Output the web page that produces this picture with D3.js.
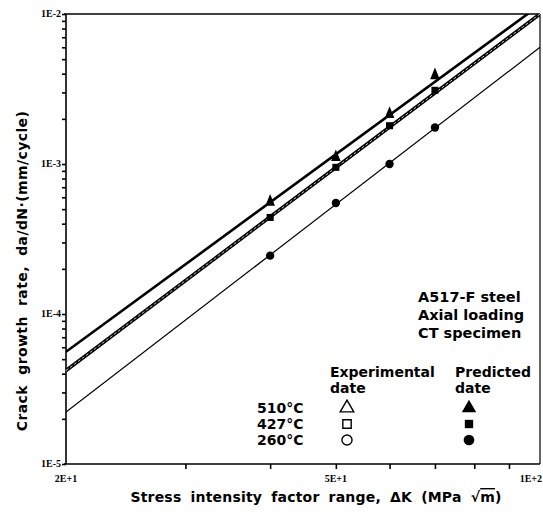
<!DOCTYPE html>
<html><head><meta charset="utf-8">
<script src="https://cdn.jsdelivr.net/npm/d3@7"></script>
<style>body{margin:0;background:#fff}svg{display:block}</style>
</head><body>
<script>
// ---- data ----
const deltaK = [40, 50, 60, 70];
const pred510 = [5.6e-4, 1.11e-3, 2.15e-3, 3.9e-3];
const pred427 = [4.4e-4, 9.5e-4, 1.8e-3, 3.1e-3];
const pred260 = [2.45e-4, 5.5e-4, 1.0e-3, 1.75e-3];
const fit510 = [[20, 5.6e-5], [100, 1.15e-2]];
const fit427 = [[20, 4.2e-5], [100, 1.0e-2]];
const fit260 = [[20, 2.22e-5], [100, 6.0e-3]];
const xTickValues = [30, 40, 50, 60, 70, 80, 90];
const xTickLabels = [[20, "2E+1"], [50, "5E+1"], [100, "1E+2"]];
const yTickLabels = [[1e-2, "1E-2"], [1e-3, "1E-3"], [1e-4, "1E-4"], [1e-5, "1E-5"]];
const tempLabels = ["510\u00B0C", "427\u00B0C", "260\u00B0C"];
const specLines = ["A517-F steel", "Axial loading", "CT specimen"];

const W = 543, H = 512;
const L = 66, R = 540, T = 14, B = 464;
const svg = d3.select("body").append("svg").attr("width", W).attr("height", H);
const x = d3.scaleLog().domain([20, 100]).range([L, R]);
const y = d3.scaleLog().domain([1e-5, 1e-2]).range([B, T]);

svg.append("defs").append("clipPath").attr("id", "clip")
  .append("rect").attr("x", L).attr("y", T).attr("width", R - L).attr("height", B - T);

// frame (top / right)
svg.append("line").attr("x1", L - 2).attr("x2", R).attr("y1", T).attr("y2", T).attr("stroke", "#000").attr("stroke-width", 1.6);
svg.append("line").attr("x1", R).attr("x2", R).attr("y1", T).attr("y2", B).attr("stroke", "#000").attr("stroke-width", 1.2);

// y axis
const yTicks = [];
for (let e = -5; e <= -2; e++) for (let m = 1; m <= 9; m++) { const v = m * Math.pow(10, e); if (v <= 1e-2 + 1e-12) yTicks.push(v); }
const yAxis = d3.axisLeft(y).tickValues(yTicks).tickSize(4).tickFormat("");
const gy = svg.append("g").attr("transform", `translate(${L},0)`).call(yAxis);
gy.selectAll("path,line").attr("stroke", "#000").attr("stroke-width", 1.6);
gy.select(".domain").attr("d", `M0,${T}V${B}`);

// x axis
const xAxis = d3.axisBottom(x).tickValues(xTickValues).tickSize(5).tickFormat("");
const gx = svg.append("g").attr("transform", `translate(0,${B})`).call(xAxis);
gx.selectAll("path,line").attr("stroke", "#000").attr("stroke-width", 1.6);
gx.select(".domain").attr("d", `M${L - 2},0H${R}`);

// tick labels
svg.selectAll(".yl").data(yTickLabels).enter().append("text")
  .attr("x", L - 5).attr("y", d => y(d[0]) + 3).attr("text-anchor", "end")
  .attr("font-family", "Liberation Serif").attr("font-weight", "bold").attr("font-size", 10)
  .text(d => d[1]);
svg.selectAll(".xl").data(xTickLabels).enter().append("text")
  .attr("x", d => d[0] === 100 ? W - 1 : x(d[0])).attr("y", B + 18)
  .attr("text-anchor", d => d[0] === 100 ? "end" : "middle")
  .attr("font-family", "Liberation Serif").attr("font-weight", "bold").attr("font-size", 10)
  .text(d => d[1]);

// fitted lines
const line = d3.line().x(d => x(d[0])).y(d => y(d[1]));
const gl = svg.append("g").attr("clip-path", "url(#clip)");
gl.append("path").attr("d", line(fit510)).attr("fill", "none").attr("stroke", "#000").attr("stroke-width", 2.6);
gl.append("path").attr("d", line(fit427)).attr("fill", "none").attr("stroke", "#000").attr("stroke-width", 3.6);
gl.append("path").attr("d", line(fit427)).attr("fill", "none").attr("stroke", "#fff").attr("stroke-width", 0.8).attr("stroke-dasharray", "3,2");
gl.append("path").attr("d", line(fit260)).attr("fill", "none").attr("stroke", "#000").attr("stroke-width", 1.2);

// markers
const tri = d3.symbol().type(d3.symbolTriangle).size(55);
const sq = d3.symbol().type(d3.symbolSquare).size(50);
const circ = d3.symbol().type(d3.symbolCircle).size(55);
const pts = (arr) => deltaK.map((k, i) => [k, arr[i]]);
svg.selectAll(".p510").data(pts(pred510)).enter().append("path").attr("d", tri)
  .attr("transform", d => `translate(${x(d[0])},${y(d[1])}) scale(0.85,1.2)`).attr("fill", "#000");
svg.selectAll(".p427").data(pts(pred427)).enter().append("path").attr("d", sq)
  .attr("transform", d => `translate(${x(d[0])},${y(d[1])})`).attr("fill", "#000");
svg.selectAll(".p260").data(pts(pred260)).enter().append("path").attr("d", circ)
  .attr("transform", d => `translate(${x(d[0])},${y(d[1])})`).attr("fill", "#000");

// text style helper
const bold = (sel, size) => sel.attr("font-family", "DejaVu Sans").attr("font-weight", "bold").attr("font-size", size).attr("fill", "#000");

// specimen text
specLines.forEach((t, i) => bold(svg.append("text").attr("x", 418).attr("y", 302 + i * 18).text(t), 14.5));

// legend
bold(svg.append("text").attr("x", 330).attr("y", 377).text("Experimental"), 14);
bold(svg.append("text").attr("x", 330).attr("y", 393).text("date"), 14);
bold(svg.append("text").attr("x", 455).attr("y", 377).text("Predicted"), 14);
bold(svg.append("text").attr("x", 455).attr("y", 393).text("date"), 14);
const legY = [408, 424, 440];
tempLabels.forEach((t, i) => bold(svg.append("text").attr("x", 257).attr("y", legY[i] + 5).text(t), 14));
const syms = [tri, sq, circ];
syms.forEach((s, i) => {
  svg.append("path").attr("d", s.size(i === 1 ? 70 : 80)).attr("transform", `translate(347,${legY[i]})`)
    .attr("fill", "none").attr("stroke", "#000").attr("stroke-width", 1.4);
  svg.append("path").attr("d", s.size(i === 1 ? 70 : 90)).attr("transform", `translate(469,${legY[i]})`).attr("fill", "#000");
});

// axis titles
bold(svg.append("text").attr("transform", `translate(27,${271}) rotate(-90)`).attr("text-anchor", "middle")
  .attr("letter-spacing", 0.4).attr("word-spacing", 5).text("Crack growth rate, da/dN\u00B7(mm/cycle)"), 14);
const xt = bold(svg.append("text").attr("x", 316).attr("y", 502).attr("text-anchor", "middle")
  .attr("letter-spacing", 0.2).attr("word-spacing", 4), 14);
xt.append("tspan").text("Stress intensity factor range,  \u0394K  (MPa \u221A");
xt.append("tspan").attr("text-decoration", "overline").text("m");
xt.append("tspan").text(")");
</script>
</body></html>
